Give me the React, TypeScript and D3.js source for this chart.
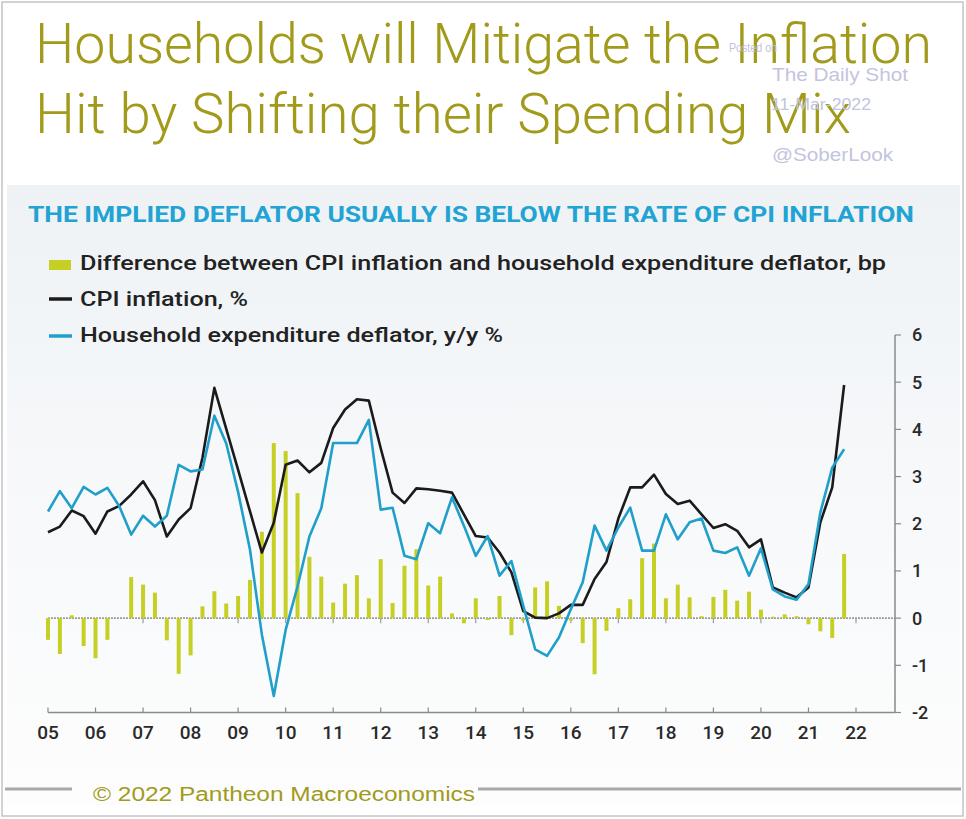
import React from 'react';
import * as d3 from 'd3';

// ---------- DATA (quarterly, 2005 Q1 .. 2021 Q4) ----------
const startYear = 2005;
const cpiInflation = [
  1.82, 1.94, 2.28, 2.16,
  1.79, 2.26, 2.38, 2.62,
  2.9, 2.5, 1.73, 2.09,
  2.33, 3.4, 4.88, 4.01,
  3.14, 2.26, 1.39, 2.02,
  3.25, 3.34, 3.09, 3.29,
  4.03, 4.42, 4.64, 4.61,
  3.6, 2.66, 2.44, 2.75,
  2.73, 2.7, 2.66, 2.2,
  1.74, 1.71, 1.39, 0.97,
  0.15, 0.01, 0.0, 0.1,
  0.28, 0.28, 0.83, 1.19,
  2.11, 2.77, 2.77, 3.04,
  2.63, 2.42, 2.49, 2.2,
  1.91, 1.99, 1.85, 1.5,
  1.67, 0.65, 0.54, 0.44,
  0.65, 2.03, 2.77, 4.94,
];
const deflator = [
  2.26, 2.69, 2.33, 2.78,
  2.62, 2.76, 2.37, 1.77,
  2.17, 1.94, 2.17, 3.25,
  3.11, 3.15, 4.29, 3.7,
  2.67, 1.45, -0.35, -1.65,
  -0.25, 0.67, 1.73, 2.33,
  3.71, 3.71, 3.71, 4.2,
  2.3, 2.34, 1.32, 1.25,
  2.01, 1.8, 2.56, 1.96,
  1.32, 1.74, 0.9, 1.21,
  0.26, -0.66, -0.8, -0.41,
  0.19, 0.76, 1.96, 1.43,
  1.92, 2.34, 1.43, 1.43,
  2.2, 1.67, 2.03, 2.11,
  1.43, 1.38, 1.5, 0.9,
  1.48, 0.61, 0.46, 0.39,
  0.72, 2.24, 3.19, 3.58,
];
const difference = [
  -0.46, -0.76, 0.06, -0.59,
  -0.85, -0.46, 0.0, 0.87,
  0.71, 0.54, -0.47, -1.18,
  -0.79, 0.25, 0.57, 0.31,
  0.47, 0.81, 1.83, 3.71,
  3.54, 2.65, 1.3, 0.88,
  0.33, 0.73, 0.91, 0.42,
  1.25, 0.32, 1.11, 1.46,
  0.69, 0.88, 0.1, -0.11,
  0.42, -0.04, 0.47, -0.36,
  -0.05, 0.65, 0.78, 0.26,
  -0.05, -0.53, -1.19, -0.27,
  0.21, 0.4, 1.27, 1.58,
  0.42, 0.71, 0.44, 0.04,
  0.45, 0.6, 0.37, 0.56,
  0.18, 0.03, 0.08, 0.04,
  -0.13, -0.28, -0.42, 1.36,
];
const yearTicks = [2005, 2006, 2007, 2008, 2009, 2010, 2011, 2012, 2013, 2014, 2015, 2016, 2017, 2018, 2019, 2020, 2021, 2022];
const yearLabels = ['05', '06', '07', '08', '09', '10', '11', '12', '13', '14', '15', '16', '17', '18', '19', '20', '21', '22'];
const yTicks = [-2, -1, 0, 1, 2, 3, 4, 5, 6];
const titleLines = ['Households will Mitigate the Inflation', 'Hit by Shifting their Spending Mix'];
const subtitle = 'THE IMPLIED DEFLATOR USUALLY IS BELOW THE RATE OF CPI INFLATION';
const legendLabels = [
  'Difference between CPI inflation and household expenditure deflator, bp',
  'CPI inflation, %',
  'Household expenditure deflator, y/y %',
];

const OLIVE = '#a19a1b';
const BAR = '#c6cf24';
const BLACK = '#1b1b1b';
const BLUE = '#1f9fca';
const WM = '#c3c4de';

export default function App() {
  const W = 966;
  const H = 819;
  const x = d3.scaleLinear().domain([2005, 2022]).range([48, 856]);
  const y = d3.scaleLinear().domain([-2, 6]).range([712.5, 335]);
  const xq = (i: number) => x(startYear + i / 4);
  const line = d3
    .line<number>()
    .x((_, i) => xq(i))
    .y((d) => y(d));
  const axisRight = 895;
  const axisBottom = y(-2);

  return (
    <svg
      width={W}
      height={H}
      viewBox={`0 0 ${W} ${H}`}
      style={{ position: 'absolute', left: 0, top: 0, background: '#fff' }}
      fontFamily="Roboto, 'Liberation Sans', Arial, sans-serif"
    >
      <defs>
        <linearGradient id="panelBg" x1="0" y1="0" x2="0" y2="1">
          <stop offset="0" stopColor="#eef2f5" />
          <stop offset="0.45" stopColor="#f6f8fa" />
          <stop offset="1" stopColor="#fdfdfd" />
        </linearGradient>
      </defs>
      <rect x={0} y={0} width={W} height={H} fill="#fff" />
      <rect x={7} y={185} width={953} height={620} fill="url(#panelBg)" />
      <rect x={2} y={2} width={961} height={814} fill="none" stroke="#c4c4c4" strokeWidth={1.5} />

      {/* Title */}
      {titleLines.map((t, i) => (
        <text
          key={t}
          x={35}
          y={63 + i * 70}
          fontSize={55}
          fontWeight={300}
          fill={OLIVE}
          textLength={i === 0 ? 897 : 816}
          lengthAdjust="spacingAndGlyphs"
        >
          {t}
        </text>
      ))}

      {/* Watermark (overlaps the title, as in the original) */}
      <g fill={WM} fontFamily="'Liberation Sans', Arial, sans-serif">
        <text x={729} y={52} fontSize={13} textLength={48} lengthAdjust="spacingAndGlyphs">Posted on</text>
        <text x={772} y={81} fontSize={19} textLength={136} lengthAdjust="spacingAndGlyphs">The Daily Shot</text>
        <text x={771} y={110} fontSize={16} textLength={100} lengthAdjust="spacingAndGlyphs">11-Mar-2022</text>
        <text x={772} y={161} fontSize={18} textLength={121} lengthAdjust="spacingAndGlyphs">@SoberLook</text>
      </g>

      {/* Subtitle */}
      <text
        x={28}
        y={222}
        fontSize={22}
        fontWeight={700}
        fill="#22a3d3"
        textLength={886}
        lengthAdjust="spacingAndGlyphs"
      >
        {subtitle}
      </text>

      {/* Legend */}
      <rect x={49} y={260} width={22} height={10} fill={BAR} />
      <line x1={49} x2={72} y1={299} y2={299} stroke={BLACK} strokeWidth={3.5} />
      <line x1={49} x2={72} y1={336} y2={336} stroke={BLUE} strokeWidth={3.5} />
      {legendLabels.map((t, i) => (
        <text
          key={t}
          x={80}
          y={269.5 + i * 36}
          fontSize={20}
          fontWeight={500}
          fill="#222"
          textLength={[806, 168, 423][i]}
          lengthAdjust="spacingAndGlyphs"
        >
          {t}
        </text>
      ))}

      {/* Zero line */}
      <line x1={48} x2={axisRight} y1={y(0)} y2={y(0)} stroke="#9c9c9c" strokeWidth={1.6} strokeDasharray="2,1" />
      {yearTicks.map((yr) => (
        <line key={'z' + yr} x1={x(yr)} x2={x(yr)} y1={y(0)} y2={y(0) + 5} stroke="#9c9c9c" strokeWidth={1.2} />
      ))}

      {/* Bars */}
      {difference.map((d, i) => (
        <rect
          key={'b' + i}
          x={xq(i) - 2}
          width={4}
          y={Math.min(y(0), y(d))}
          height={Math.abs(y(d) - y(0))}
          fill={BAR}
        />
      ))}

      {/* Lines */}
      <path d={line(cpiInflation) || ''} fill="none" stroke={BLACK} strokeWidth={2.6} strokeLinejoin="round" />
      <path d={line(deflator) || ''} fill="none" stroke={BLUE} strokeWidth={2.6} strokeLinejoin="round" />

      {/* Right axis */}
      <line x1={axisRight} x2={axisRight} y1={y(6)} y2={axisBottom} stroke="#8a8a8a" strokeWidth={1.5} />
      {yTicks.map((t) => (
        <g key={'y' + t}>
          <line x1={axisRight} x2={axisRight + 6} y1={y(t)} y2={y(t)} stroke="#8a8a8a" strokeWidth={1.2} />
          <text x={912} y={y(t)} dy="0.36em" fontSize={18} fontWeight={500} fill="#2a2a2a">
            {t}
          </text>
        </g>
      ))}

      {/* Bottom axis */}
      <line x1={48} x2={axisRight} y1={axisBottom} y2={axisBottom} stroke="#8a8a8a" strokeWidth={1.5} />
      {yearTicks.map((yr, i) => (
        <g key={'x' + yr}>
          <line x1={x(yr)} x2={x(yr)} y1={axisBottom - 5} y2={axisBottom} stroke="#8a8a8a" strokeWidth={1.2} />
          <text x={x(yr)} y={739} textAnchor="middle" fontSize={19} fontWeight={500} fill="#2a2a2a">
            {yearLabels[i]}
          </text>
        </g>
      ))}

      {/* Footer */}
      <line x1={5} x2={72} y1={789} y2={789} stroke="#a9a9a9" strokeWidth={3} />
      <line x1={478} x2={961} y1={789} y2={789} stroke="#a9a9a9" strokeWidth={3} />
      <text
        x={93}
        y={801}
        fontSize={20}
        fill={OLIVE}
        fontFamily="'Liberation Sans', Arial, sans-serif"
        textLength={382}
        lengthAdjust="spacingAndGlyphs"
      >
        © 2022 Pantheon Macroeconomics
      </text>
    </svg>
  );
}
